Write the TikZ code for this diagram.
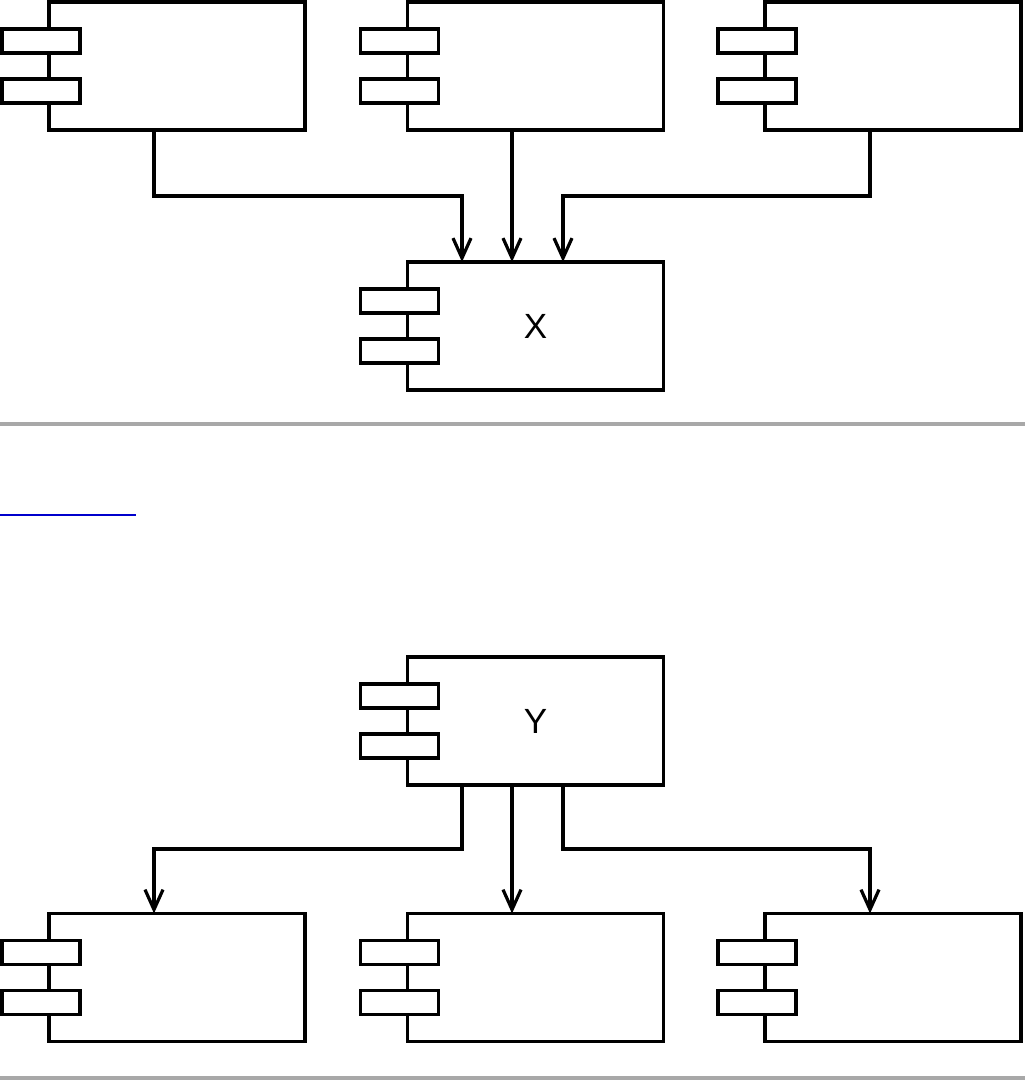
\documentclass[tikz,border=0pt]{standalone}
\usepackage{fontspec}
\setmainfont{Liberation Sans}
\usetikzlibrary{arrows.meta}

\begin{document}
\begin{tikzpicture}[x=0.5pt,y=-0.5pt,line width=1.6pt,
  comp/.style={draw,rectangle,minimum width=128pt,minimum height=64pt,inner sep=0pt,outer sep=0pt,font=\fontsize{17.5}{20}\selectfont},
  port/.style={draw,fill=white,rectangle,minimum width=39pt,minimum height=12pt,inner sep=0pt},
  flow/.style={-{Straight Barb[length=10pt,width=9pt]}}]
  \useasboundingbox (0,0) rectangle (1025,1080);
  % upper part: three users of X
  \node[comp] (src1) at (177,66) {};
  \node[comp] (src2) at (535.5,66) {};
  \node[comp] (src3) at (893,66) {};
  \node[comp] (x) at (535.5,326) {X};
  % lower part: Y and its three users
  \node[comp] (y) at (535.5,721) {Y};
  \node[comp] (dst1) at (177,977.5) {};
  \node[comp] (dst2) at (535.5,977.5) {};
  \node[comp] (dst3) at (893,977.5) {};
  \foreach \c in {src1,src2,src3,x,y,dst1,dst2,dst3} {
    \node[port] at ([xshift=-4pt,yshift=12.5pt]\c.west) {};
    \node[port] at ([xshift=-4pt,yshift=-12.5pt]\c.west) {};
  }
  \draw[flow] ([xshift=-11.5pt]src1.south) -- ++(0,66) -| ([xshift=-36.75pt]x.north);
  \draw[flow] ([xshift=-11.75pt]src2.south) -- ([xshift=-11.75pt]x.north);
  \draw[flow] ([xshift=-11.5pt]src3.south) -- ++(0,66) -| ([xshift=13.75pt]x.north);
  \draw[flow] ([xshift=-36.75pt]y.south) -- ++(0,64) -| ([xshift=-11.5pt]dst1.north);
  \draw[flow] ([xshift=-11.75pt]y.south) -- ([xshift=-11.75pt]dst2.north);
  \draw[flow] ([xshift=13.75pt]y.south) -- ++(0,64) -| ([xshift=-11.5pt]dst3.north);
  % rules
  \draw[line width=2pt,black!34] (0,424) -- (1025,424);
  \draw[line width=2pt,black!34] (0,1078) -- (1025,1078);
  \draw[line width=0.8pt,blue!80!black] (0,515) -- (136,515);
\end{tikzpicture}
\end{document}
